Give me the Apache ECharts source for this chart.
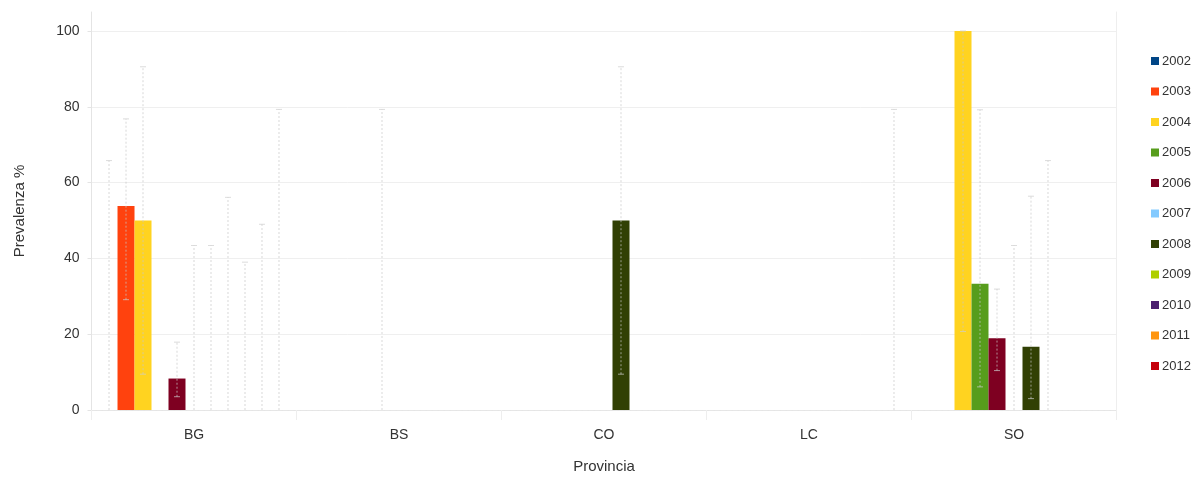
<!DOCTYPE html>
<html>
<head>
<meta charset="utf-8">
<script src="https://cdn.jsdelivr.net/npm/echarts@6/dist/echarts.min.js"></script>
<style>
  html, body { margin: 0; padding: 0; background: #fff; }
  #chart { width: 1201px; height: 479px; }
</style>
</head>
<body>
<div id="chart"></div>
<script>
// ---- Data ----
const categories = ['BG', 'BS', 'CO', 'LC', 'SO'];
const years = ['2002', '2003', '2004', '2005', '2006', '2007', '2008', '2009', '2010', '2011', '2012'];
const yTicks = [0, 20, 40, 60, 80, 100];

// Prevalence values (%) per year, by province (null = no data)
const prev2002 = [0, null, null, null, null];
const prev2003 = [53.8, null, null, null, null];
const prev2004 = [50, null, null, null, 100];
const prev2005 = [null, null, null, null, 33.3];
const prev2006 = [8.3, 0, null, null, 18.9];
const prev2007 = [0, null, null, null, 0];
const prev2008 = [0, null, 50, null, 16.7];
const prev2009 = [0, null, null, null, 0];
const prev2010 = [0, null, null, null, null];
const prev2011 = [0, null, null, null, null];
const prev2012 = [0, null, null, 0, null];

// Lower confidence limits
const low2002 = [0, null, null, null, null];
const low2003 = [29.1, null, null, null, null];
const low2004 = [9.45, null, null, null, 20.7];
const low2005 = [null, null, null, null, 6.1];
const low2006 = [3.5, 0, null, null, 10.4];
const low2007 = [0, null, null, null, 0];
const low2008 = [0, null, 9.45, null, 3.0];
const low2009 = [0, null, null, null, 0];
const low2010 = [0, null, null, null, null];
const low2011 = [0, null, null, null, null];
const low2012 = [0, null, null, 0, null];

// Upper confidence limits
const high2002 = [65.8, null, null, null, null];
const high2003 = [76.8, null, null, null, null];
const high2004 = [90.55, null, null, null, 100];
const high2005 = [null, null, null, null, 79.2];
const high2006 = [17.9, 79.3, null, null, 31.9];
const high2007 = [43.4, null, null, null, 43.4];
const high2008 = [43.4, null, 90.55, null, 56.4];
const high2009 = [56.1, null, null, null, 65.8];
const high2010 = [39.0, null, null, null, null];
const high2011 = [49.0, null, null, null, null];
const high2012 = [79.3, null, null, 79.3, null];

const prevData = [prev2002, prev2003, prev2004, prev2005, prev2006, prev2007, prev2008, prev2009, prev2010, prev2011, prev2012];
const lowData = [low2002, low2003, low2004, low2005, low2006, low2007, low2008, low2009, low2010, low2011, low2012];
const highData = [high2002, high2003, high2004, high2005, high2006, high2007, high2008, high2009, high2010, high2011, high2012];

// ---- Styles ----
const colors = ['#004586', '#ff420e', '#ffd320', '#579d1c', '#7e0021', '#83caff', '#314004', '#aecf00', '#4b1f6f', '#ff950e', '#c5000b'];
const FONT = 'Liberation Sans, Arial, sans-serif';
const GAP = 0.088;

const chart = echarts.init(document.getElementById('chart'), null, { renderer: 'canvas' });

const series = [];
years.forEach((y, k) => {
  series.push({
    name: y,
    type: 'bar',
    data: prevData[k],
    barGap: 0,
    barCategoryGap: (GAP * 100) + '%',
    itemStyle: { color: colors[k] },
    z: 2
  });
});
years.forEach((y, k) => {
  const d = [];
  categories.forEach((c, i) => {
    if (lowData[k][i] != null && highData[k][i] != null) d.push([i, lowData[k][i], highData[k][i]]);
  });
  series.push({
    name: 'err' + y,
    type: 'custom',
    data: d,
    z: 5,
    silent: true,
    encode: { x: 0, y: [1, 2] },
    renderItem: function (params, api) {
      const ci = api.value(0);
      const lo = api.value(1);
      const p0 = api.coord([ci, lo]);
      const p1 = api.coord([ci, api.value(2)]);
      const band = api.size([1, 0])[0];
      const bw = band * (1 - GAP) / years.length;
      const x = p0[0] + (k - (years.length - 1) / 2) * bw;
      const style = { stroke: 'rgba(200,200,200,0.7)', lineWidth: 1, lineDash: [2, 2] };
      const cap = { stroke: 'rgba(205,205,205,0.7)', lineWidth: 1 };
      const children = [
        { type: 'line', shape: { x1: x, y1: p0[1], x2: x, y2: p1[1] }, style: style },
        { type: 'line', shape: { x1: x - 3, y1: p1[1], x2: x + 3, y2: p1[1] }, style: cap }
      ];
      if (lo > 0) {
        children.push({ type: 'line', shape: { x1: x - 3, y1: p0[1], x2: x + 3, y2: p0[1] }, style: cap });
      }
      return { type: 'group', children: children };
    }
  });
});

const option = {
  backgroundColor: '#fff',
  animation: false,
  grid: { left: 91.5, right: 84.5, top: 12, bottom: 68, containLabel: false },
  legend: {
    data: years,
    orient: 'vertical',
    left: 1146,
    top: 49,
    itemWidth: 8,
    itemHeight: 8,
    itemGap: 16.5,
    icon: 'rect',
    textStyle: { fontFamily: FONT, fontSize: 13, color: '#333', lineHeight: 14, padding: [0, 0, 0, -2] }
  },
  xAxis: [{
    type: 'category',
    data: categories,
    name: 'Provincia',
    nameLocation: 'middle',
    nameGap: 49,
    nameTextStyle: { fontFamily: FONT, fontSize: 15, color: '#333' },
    axisLine: { lineStyle: { color: '#e4e4e4' } },
    axisTick: { show: true, length: 10, lineStyle: { color: '#eeeeee' } },
    axisLabel: { fontFamily: FONT, fontSize: 14, color: '#333', margin: 18 },
    splitLine: { show: false }
  }, {
    type: 'category',
    data: categories,
    position: 'top',
    axisLine: { show: true, lineStyle: { color: '#e6e6e6', type: 'dashed' } },
    axisTick: { show: false },
    axisLabel: { show: false }
  }],
  yAxis: [{
    type: 'value',
    min: 0,
    max: 105,
    interval: 20,
    name: 'Prevalenza %',
    nameLocation: 'middle',
    nameGap: 64,
    nameTextStyle: { fontFamily: FONT, fontSize: 15, color: '#333' },
    axisLine: { show: true, lineStyle: { color: '#e4e4e4' } },
    axisTick: { show: true, length: 4, lineStyle: { color: '#e4e4e4' } },
    axisLabel: {
      fontFamily: FONT, fontSize: 14, color: '#333', margin: 12,
      showMaxLabel: false,
      formatter: v => (yTicks.indexOf(v) >= 0 ? String(v) : '')
    },
    splitLine: { show: true, showMaxLine: false, lineStyle: { color: '#efefef' } }
  }, {
    type: 'value',
    min: 0,
    max: 105,
    position: 'right',
    axisLine: { show: true, lineStyle: { color: '#eeeeee' } },
    axisTick: { show: false },
    axisLabel: { show: false },
    splitLine: { show: false }
  }],
  series: series
};

chart.setOption(option);
</script>
</body>
</html>
